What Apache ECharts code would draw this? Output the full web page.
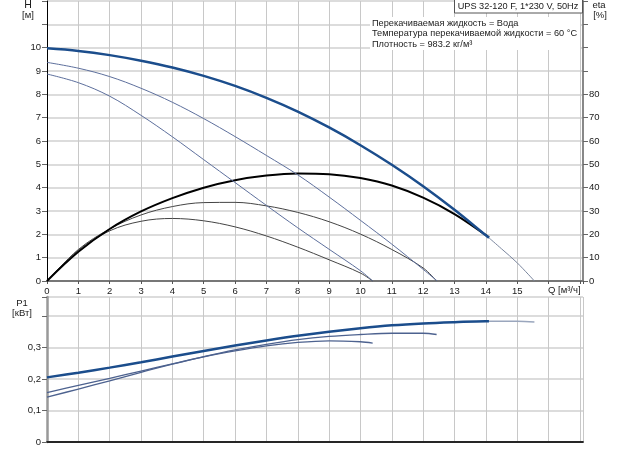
<!DOCTYPE html>
<html lang="ru">
<head>
    <meta charset="UTF-8">
    <title>UPS 32-120 F</title>
    <script src="https://cdn.jsdelivr.net/npm/echarts@6/dist/echarts.min.js"></script>
    <style>
        html, body { margin: 0; padding: 0; background: #fff; }
        #chart { width: 622px; height: 450px; }
    </style>
</head>
<body>
<div id="chart"></div>
<script type="text/javascript">
    // H(Q) curves, 3 speeds
    var qH3 = [0, 1, 2, 3, 4, 5, 6, 7, 8, 9, 10, 11, 12, 13, 14, 14.1];
    var h3 = [9.97, 9.86, 9.68, 9.44, 9.15, 8.79, 8.36, 7.85, 7.26, 6.58, 5.82, 4.98, 4.06, 3.05, 1.96, 1.85];
    var qH3ext = [14.1, 14.5, 15, 15.55];
    var h3ext = [1.85, 1.38, 0.78, 0];
    var qH2 = [0, 1, 2, 3, 4, 5, 6, 7, 8, 9, 10, 11, 12, 12.45];
    var h2 = [9.37, 9.12, 8.76, 8.26, 7.66, 6.96, 6.19, 5.38, 4.55, 3.6, 2.6, 1.58, 0.5, 0];
    var qH1 = [0, 1, 2, 3, 4, 5, 6, 7, 8, 9, 10, 10.39];
    var h1 = [8.87, 8.5, 7.92, 7.1, 6.18, 5.2, 4.22, 3.24, 2.28, 1.36, 0.44, 0];

    // eta(Q), %
    var qE3 = [0, 1, 2, 3, 4, 5, 6, 7, 8, 9, 10, 11, 12, 13, 14, 14.1];
    var eta3 = [0, 12.5, 22.3, 29.8, 35.5, 40.0, 43.2, 45.2, 46.1, 45.8, 44.1, 40.9, 35.7, 28.7, 19.7, 18.6];
    var qE2 = [0, 1, 2, 3, 4, 5, 6, 7, 8, 9, 10, 11, 12, 12.43];
    var eta2 = [0, 13.5, 22.3, 28.3, 31.9, 33.6, 33.7, 32.2, 29.4, 25.4, 20.1, 13.5, 5.6, 0];
    var qE1 = [0, 1, 2, 3, 4, 5, 6, 7, 8, 9, 10, 10.39];
    var eta1 = [0, 13.2, 21.5, 25.6, 26.8, 25.8, 23.2, 19.3, 14.5, 9.1, 3.4, 0];

    // P1(Q), kW
    var qP3 = [0, 1, 2, 3, 4, 5, 6, 7, 8, 9, 10, 11, 12, 13, 14, 14.1];
    var p3 = [0.205, 0.22, 0.236, 0.253, 0.271, 0.289, 0.306, 0.322, 0.337, 0.35, 0.361, 0.37, 0.376, 0.38, 0.383, 0.383];
    var qP3ext = [14.1, 15, 15.55];
    var p3ext = [0.383, 0.383, 0.381];
    var qP2 = [0, 1, 2, 3, 4, 5, 6, 7, 8, 9, 10, 11, 12, 12.43];
    var p2 = [0.157, 0.18, 0.202, 0.225, 0.248, 0.271, 0.292, 0.31, 0.325, 0.335, 0.341, 0.345, 0.345, 0.341];
    var qP1 = [0, 1, 2, 3, 4, 5, 6, 7, 8, 9, 10, 10.39];
    var p1 = [0.142, 0.168, 0.194, 0.221, 0.247, 0.27, 0.289, 0.305, 0.316, 0.321, 0.318, 0.314];

    var infoLines = [
        'Перекачиваемая жидкость = Вода',
        'Температура перекачиваемой жидкости = 60 °C',
        'Плотность = 983.2 кг/м³'
    ];

    function pairs(xs, ys) {
        return xs.map(function (x, i) { return [x, ys[i]]; });
    }

    var font = 'Liberation Sans, Arial, sans-serif';
    var txt = '#1a1a1a';
    var blue = '#1b4d8c';
    var thinBlue = '#5d6f9c';

    var myChart = echarts.init(document.getElementById('chart'));

    function line(name, data, xi, yi, color, width) {
        return {
            name: name, type: 'line', xAxisIndex: xi, yAxisIndex: yi,
            data: data, smooth: 0.35, showSymbol: false, symbol: 'none',
            lineStyle: { color: color, width: width }, animation: false
        };
    }

    function label(x, y, s, align, size) {
        return { type: 'text', x: x, y: y, z: 5,
            style: { text: s, font: (size || 9.2) + 'px ' + font, fill: txt, align: align || 'center', verticalAlign: 'middle' } };
    }

    var graphic = [
        // white patch under the fluid info
        { type: 'rect', z: 4, shape: { x: 370, y: 17, width: 210, height: 33 },
          style: { fill: '#fff' } },
        { type: 'rect', z: 4, shape: { x: 454.5, y: -1, width: 128, height: 14 },
          style: { fill: '#fff', stroke: '#555', lineWidth: 1 } },
        label(518, 6, 'UPS 32-120 F, 1*230 V, 50Hz'),
        label(28, 5, 'H', 'center', 10.5),
        label(28, 15.5, '[м]', 'center', 9.5),
        label(599, 5, 'eta', 'center', 9.5),
        label(600, 15.5, '[%]', 'center', 9.5),
        label(22, 303, 'P1', 'center', 9.5),
        label(22, 313.5, '[кВт]', 'center', 9.5),
        label(548, 290, 'Q [м³/ч]', 'left', 9.5)
    ];
    infoLines.forEach(function (s, i) {
        graphic.push(label(372, 23.3 + i * 10.6, s, 'left'));
    });

    myChart.setOption({
        animation: false,
        grid: [
            { left: 47, top: 1, width: 536, height: 280 },
            { left: 47, top: 297, width: 536, height: 145 }
        ],
        xAxis: [
            {
                gridIndex: 0, type: 'value', min: 0, max: 17.1, interval: 1,
                axisLine: { lineStyle: { color: '#777', width: 2 } },
                axisTick: { show: true, length: 3, lineStyle: { color: '#555' } },
                axisLabel: {
                    color: txt, fontSize: 9.5, fontFamily: font, margin: 5,
                    formatter: function (v) { return v <= 15 ? String(v) : ''; }
                },
                splitLine: { show: true, lineStyle: { color: '#c8c8c8', width: 1 } }
            },
            {
                gridIndex: 1, type: 'value', min: 0, max: 17.1, interval: 1,
                axisLine: { lineStyle: { color: '#999', width: 2 } },
                axisTick: { show: false }, axisLabel: { show: false },
                splitLine: { show: true, lineStyle: { color: '#c8c8c8', width: 1 } }
            },
            {
                gridIndex: 1, type: 'value', position: 'top', min: 0, max: 17.1, interval: 1,
                axisLine: { lineStyle: { color: '#000', width: 1.5 } },
                axisTick: { show: false }, axisLabel: { show: false }, splitLine: { show: false }
            }
        ],
        yAxis: [
            {
                gridIndex: 0, type: 'value', min: 0, max: 12, interval: 1,
                axisLine: { show: true, lineStyle: { color: '#000', width: 1 } },
                axisTick: { show: true, length: 5, lineStyle: { color: '#666' } },
                axisLabel: {
                    color: txt, fontSize: 9.5, fontFamily: font, margin: 6,
                    formatter: function (v) { return v <= 10 ? String(v) : ''; }
                },
                splitLine: { show: true, lineStyle: { color: '#dcdcdc', width: 2 } }
            },
            {
                gridIndex: 0, type: 'value', position: 'right', min: 0, max: 120, interval: 10,
                axisLine: { show: true, lineStyle: { color: '#888', width: 2 } },
                axisTick: { show: true, length: 5, lineStyle: { color: '#666' } },
                axisLabel: {
                    color: txt, fontSize: 9.5, fontFamily: font, margin: 6,
                    formatter: function (v) { return v <= 80 ? String(v) : ''; }
                },
                splitLine: { show: false }
            },
            {
                gridIndex: 1, type: 'value', min: 0, max: 0.46, interval: 0.1,
                axisLine: { show: true, lineStyle: { color: '#000', width: 1 } },
                axisTick: { show: true, length: 5, lineStyle: { color: '#666' } },
                axisLabel: {
                    color: txt, fontSize: 9.5, fontFamily: font, margin: 6,
                    formatter: function (v) {
                        var r = Math.round(v * 10) / 10;
                        if (r > 0.3) return '';
                        return String(r).replace('.', ',');
                    }
                },
                splitLine: { show: true, lineStyle: { color: '#dcdcdc', width: 2 } }
            },
            {
                gridIndex: 1, type: 'value', position: 'right', min: 0, max: 0.46, interval: 0.1,
                axisLine: { show: true, lineStyle: { color: '#999', width: 2.5 } },
                axisTick: { show: false }, axisLabel: { show: false }, splitLine: { show: false }
            }
        ],
        graphic: graphic,
        series: [
            line('eta1', pairs(qE1, eta1), 0, 1, '#444', 1),
            line('eta2', pairs(qE2, eta2), 0, 1, '#444', 1),
            line('eta3', pairs(qE3, eta3), 0, 1, '#000', 2),
            line('H1', pairs(qH1, h1), 0, 0, thinBlue, 1),
            line('H2', pairs(qH2, h2), 0, 0, thinBlue, 1),
            line('H3ext', pairs(qH3ext, h3ext), 0, 0, '#7a869e', 1),
            line('H3', pairs(qH3, h3), 0, 0, blue, 2.5),
            line('P1', pairs(qP1, p1), 1, 2, '#4d628f', 1.3),
            line('P2', pairs(qP2, p2), 1, 2, '#4d628f', 1.3),
            line('P3ext', pairs(qP3ext, p3ext), 1, 2, '#9aa6bd', 1.5),
            line('P3', pairs(qP3, p3), 1, 2, blue, 2.5)
        ]
    });
</script>
</body>
</html>
